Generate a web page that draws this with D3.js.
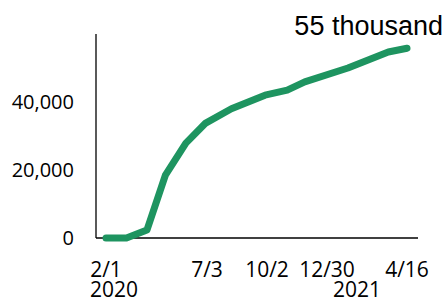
<!DOCTYPE html>
<html>
<head>
<meta charset="utf-8">
<script src="https://cdn.jsdelivr.net/npm/d3@7"></script>
<style>
  body { margin: 0; background: #fff; }
  svg { display: block; }
  .tick-label { font-family: "Open Sans", sans-serif; font-size: 20px; fill: #000; }
  .x-label { font-size: 21px; }
</style>
</head>
<body>
<div id="chart"></div>
<script>
// Data (cumulative count)
var dates = ["2020-02-01", "2020-03-03", "2020-04-03", "2020-05-01", "2020-06-01", "2020-07-01",
             "2020-08-09", "2020-09-29", "2020-11-01", "2020-11-27", "2021-01-27", "2021-03-22", "2021-04-16"];
var values = [0, 0, 2350, 18500, 27900, 33800, 38000, 42000, 43500, 45900, 50000, 54700, 55800];

var xTickDates = ["2020-02-01", "2020-07-03", "2020-10-02", "2020-12-30", "2021-04-16"];
var xTickLabels = ["2/1", "7/3", "10/2", "12/30", "4/16"];
var yearDates = ["2020-02-13", "2021-02-08"];
var yearLabels = ["2020", "2021"];
var yTicks = [0, 20000, 40000];
var endLabel = "55 thousand";

var W = 446, H = 298;
var parse = d3.timeParse("%Y-%m-%d");

var data = dates.map(function(d, i) { return { date: parse(d), value: values[i] }; });
var tickDates = xTickDates.map(parse);

var svg = d3.select("#chart").append("svg")
  .attr("width", W).attr("height", H);

// x: piecewise time scale through the labelled dates
var xScale = d3.scaleTime()
  .domain(tickDates)
  .range([106, 207, 267, 327, 407]);
var yScale = d3.scaleLinear()
  .domain([0, 60000])
  .range([238, 34]);

// axes lines
svg.append("line")
  .attr("x1", 96).attr("x2", 96)
  .attr("y1", yScale(60000)).attr("y2", yScale(0))
  .attr("stroke", "#000").attr("stroke-width", 1.3);
svg.append("line")
  .attr("x1", 96).attr("x2", 418)
  .attr("y1", yScale(0)).attr("y2", yScale(0))
  .attr("stroke", "#000").attr("stroke-width", 1.3);

// y tick labels
svg.selectAll(".ylab")
  .data(yTicks)
  .enter().append("text")
  .attr("class", "tick-label")
  .attr("x", 74)
  .attr("y", function(d) { return yScale(d); })
  .attr("dy", "0.36em")
  .attr("text-anchor", "end")
  .text(function(d) { return d3.format(",")(d); });

// x tick labels
svg.selectAll(".xlab")
  .data(tickDates)
  .enter().append("text")
  .attr("class", "tick-label x-label")
  .attr("x", function(d) { return xScale(d); })
  .attr("y", 277)
  .attr("text-anchor", "middle")
  .text(function(d, i) { return xTickLabels[i]; });

svg.selectAll(".yearlab")
  .data(yearDates)
  .enter().append("text")
  .attr("class", "tick-label x-label")
  .attr("x", function(d) { return xScale(parse(d)); })
  .attr("y", 297)
  .attr("text-anchor", "middle")
  .text(function(d, i) { return yearLabels[i]; });

// line
var line = d3.line()
  .x(function(d) { return xScale(d.date); })
  .y(function(d) { return yScale(d.value); });

svg.append("path")
  .datum(data)
  .attr("d", line)
  .attr("fill", "none")
  .attr("stroke", "#1e9460")
  .attr("stroke-width", 7)
  .attr("stroke-linecap", "round")
  .attr("stroke-linejoin", "round");

// end annotation
var last = data[data.length - 1];
svg.append("text")
  .attr("x", xScale(last.date) + 36)
  .attr("y", 35)
  .attr("text-anchor", "end")
  .style("font-family", "'Liberation Sans', Arial, sans-serif")
  .style("font-size", "27px")
  .text(endLabel);
</script>
</body>
</html>
